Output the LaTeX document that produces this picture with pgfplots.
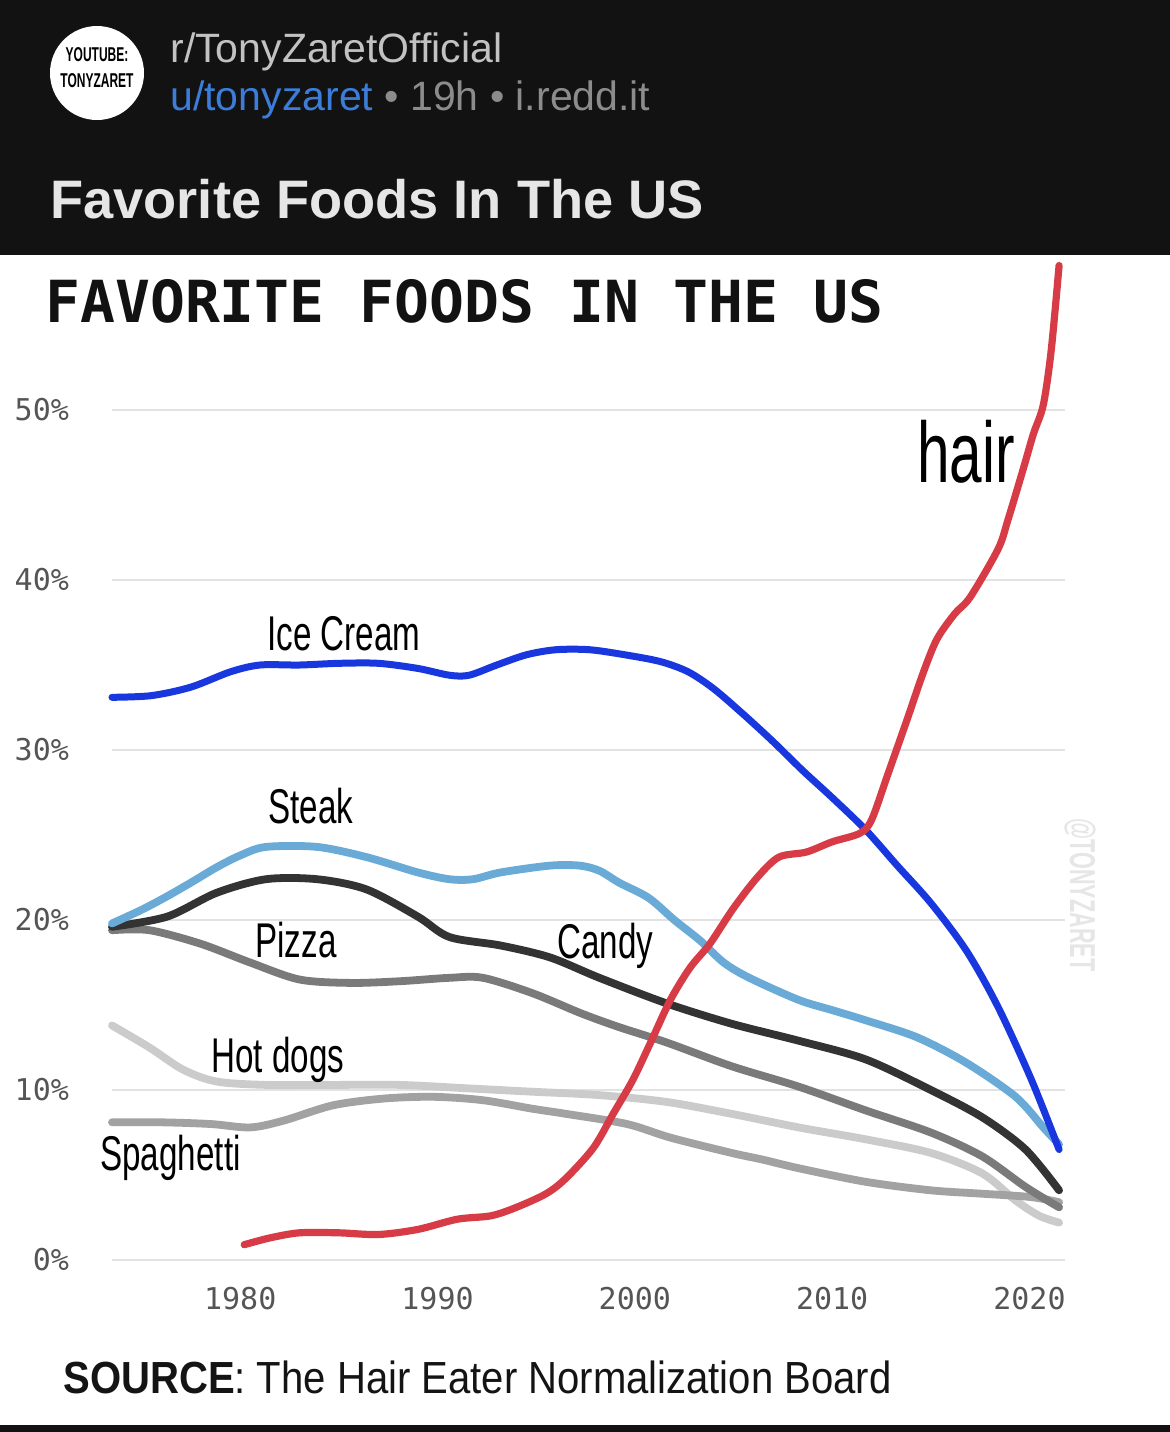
\documentclass[border=0pt]{standalone}
\usepackage{fontspec}
\setmainfont{Liberation Sans}
\newfontfamily\monofont{DejaVu Sans Mono}
\newfontfamily\monobold{DejaVu Sans Mono Bold}
\newfontfamily\lblfont[FakeStretch=0.68]{Liberation Sans}
\newfontfamily\avfont[FakeStretch=0.6]{Liberation Sans Bold}
\newfontfamily\srcfont[FakeStretch=0.89]{Liberation Sans}
\newfontfamily\srcbold[FakeStretch=0.89]{Liberation Sans Bold}
\usepackage{pgfplots}
\pgfplotsset{compat=1.18}
\definecolor{hdrbg}{HTML}{121212}
\definecolor{subgray}{HTML}{C2C2C2}
\definecolor{metagray}{HTML}{8C8C8C}
\definecolor{userblue}{HTML}{3B7DD8}
\definecolor{titlewhite}{HTML}{E6E6E6}
\definecolor{tickgray}{HTML}{555555}
\definecolor{gridgray}{HTML}{E2E2E2}
\definecolor{icecream}{RGB}{25,55,222}
\definecolor{steak}{RGB}{105,170,215}
\definecolor{candy}{HTML}{333333}
\definecolor{pizza}{HTML}{7A7A7A}
\definecolor{spaghetti}{HTML}{A2A2A2}
\definecolor{hotdogs}{HTML}{CBCBCB}
\definecolor{hair}{RGB}{215,60,70}
\definecolor{wmark}{HTML}{E6E6E6}
\begin{document}
\begin{tikzpicture}
\begin{scope}[x=0.5pt,y=-0.5pt]
\fill[hdrbg] (0,0) rectangle (1170,255);
\fill[white] (0,255) rectangle (1170,1425);
\fill[hdrbg] (0,1425) rectangle (1170,1432);
\fill[white] (97,73) circle[radius=47];
\node[anchor=center, inner sep=0pt, text=black] at (97,55) {\avfont\fontsize{10}{12}\selectfont YOUTUBE:};
\node[anchor=center, inner sep=0pt, text=black] at (97,81) {\avfont\fontsize{10}{12}\selectfont TONYZARET};
\node[anchor=base west, inner sep=0pt, text=subgray] at (170,62) {\fontsize{20.5}{24}\selectfont r/TonyZaretOfficial};
\node[anchor=base west, inner sep=0pt] at (170,110) {\fontsize{20.5}{24}\selectfont\textcolor{userblue}{u/tonyzaret}\ \textcolor{metagray}{\textbullet\ 19h \textbullet\ i.redd.it}};
\node[anchor=base west, inner sep=0pt, text=titlewhite] at (50,218) {\fontsize{27.1}{32}\selectfont\bfseries Favorite Foods In The US};
\node[anchor=base west, inner sep=0pt, text=black!93] at (45,322) {\monobold\fontsize{29}{34}\selectfont FAVORITE FOODS IN THE US};
\node[anchor=center, inner sep=0pt, text=wmark, rotate=-90] at (1080,895) {\avfont\fontsize{18}{20}\selectfont @TONYZARET};
\end{scope}
\begin{axis}[
  at={(56pt,-630pt)}, anchor=south west,
  scale only axis, width=476.5pt, height=510pt,
  xmin=1973.5, xmax=2021.8, ymin=0, ymax=60,
  clip=false,
  axis line style={draw=none},
  major tick style={draw=none},
  major tick length=0pt,
  ymajorgrids,
  grid style={draw=gridgray, line width=1pt},
  xtick={1980,1990,2000,2010,2020},
  xticklabels={1980,1990,2000,2010,2020},
  ytick={0,10,20,30,40,50},
  yticklabels={0\%,10\%,20\%,30\%,40\%,50\%},
  xticklabel style={font=\monofont\fontsize{15}{18}\selectfont, text=tickgray, yshift=-10pt},
  yticklabel style={font=\monofont\fontsize{15}{18}\selectfont, text=tickgray, xshift=-18pt},
  every axis plot/.append style={smooth, line width=3.9pt, line cap=round, line join=round, no marks},
]
% Hot dogs
\addplot[hotdogs] coordinates {
(1973.5,13.8) (1975.4,12.5) (1977.1,11.2) (1978.8,10.5) (1981.3,10.3) (1984.7,10.3)
(1988.1,10.3) (1991.5,10.1) (1994.8,9.9) (1998.2,9.7) (2001.6,9.3) (2004.9,8.6)
(2008.3,7.8) (2011.7,7.1) (2015,6.3) (2017.6,5.1) (2019.3,3.5) (2020.5,2.6) (2021.5,2.2)};
% Spaghetti
\addplot[spaghetti] coordinates {
(1973.5,8.1) (1976,8.1) (1978.5,8.0) (1980.5,7.8) (1982.2,8.2) (1984.7,9.1)
(1987.3,9.5) (1989.8,9.6) (1992.3,9.4) (1994.8,8.9) (1996.5,8.6) (1999.6,8.0)
(2001.8,7.2) (2004.9,6.3) (2006.5,5.9) (2008.3,5.4) (2011.7,4.6) (2015,4.1)
(2017.6,3.9) (2020.1,3.7) (2021.5,3.4)};
% Pizza
\addplot[pizza] coordinates {
(1973.5,19.4) (1975.4,19.4) (1978,18.6) (1980.5,17.5) (1983,16.5) (1985.6,16.3)
(1988.1,16.4) (1990.6,16.6) (1992.3,16.6) (1994.8,15.7) (1997.3,14.5) (1999.2,13.7)
(2001.6,12.8) (2004.9,11.4) (2008.3,10.2) (2011.7,8.8) (2015,7.5) (2017.6,6.1)
(2019.8,4.3) (2021.5,3.1)};
% Candy
\addplot[candy] coordinates {
(1973.5,19.6) (1976.3,20.2) (1978.8,21.6) (1981.3,22.4) (1983.9,22.4) (1986.4,21.8)
(1989,20.2) (1990.6,19.0) (1993.2,18.5) (1995.7,17.8) (1998.2,16.6) (2001.6,15.1)
(2004.9,13.9) (2008.3,12.9) (2011.7,11.8) (2015,10.0) (2017.6,8.4) (2019.8,6.5)
(2021.5,4.1)};
% Steak
\addplot[steak] coordinates {
(1973.5,19.8) (1975,20.6) (1976.3,21.4) (1977.5,22.2) (1978.8,23.1) (1980,23.8)
(1981.3,24.3) (1983.9,24.3) (1986.4,23.7) (1989,22.8) (1990.6,22.4) (1991.8,22.4)
(1993.2,22.8) (1995.7,23.2) (1997.2,23.2) (1998.2,22.9) (1999.2,22.2) (2000.7,21.3)
(2002,20.0) (2003.3,18.8) (2004.5,17.5) (2005.8,16.6) (2008.3,15.3) (2010,14.7)
(2011.7,14.1) (2014.3,13.1) (2016.8,11.6) (2019.3,9.6) (2020.7,7.8) (2021.5,6.8)};
% Ice Cream
\addplot[icecream, line width=3.5pt] coordinates {
(1973.5,33.1) (1975.5,33.2) (1977.5,33.7) (1979.5,34.6) (1981,35.0) (1983,35.0)
(1985,35.1) (1987,35.1) (1989,34.8) (1990.6,34.4) (1991.6,34.4) (1993,35.0)
(1994.5,35.6) (1996,35.9) (1997.7,35.9) (1999.5,35.6) (2001.3,35.2) (2002.7,34.6)
(2004,33.6) (2005.5,32.1) (2007,30.5) (2008.5,28.8) (2010,27.2) (2011.7,25.3)
(2013.3,23.2) (2015,21.0) (2016.8,18.2) (2018.4,14.9) (2020.1,10.6) (2021.5,6.5)};
% hair
\addplot[hair, line width=3.6pt] coordinates {
(1980.2,0.9) (1981.5,1.3) (1983,1.6) (1985,1.6) (1987,1.5) (1989,1.8) (1991,2.4)
(1992.7,2.6) (1994,3.1) (1995.5,3.9) (1996.5,4.8) (1997.9,6.6) (1998.9,8.6)
(1999.9,10.6) (2000.8,12.8) (2001.8,15.3) (2002.8,17.2) (2003.8,18.6) (2005,20.7)
(2006.2,22.5) (2007.3,23.7) (2008.7,24.0) (2010,24.6) (2011.4,25.1) (2012,25.9)
(2012.8,28.5) (2013.8,31.8) (2014.6,34.5) (2015.3,36.5) (2016.2,38.0) (2017,39.0)
(2018.4,41.8) (2018.9,43.5) (2019.7,46.6) (2020.2,48.6) (2020.7,50.3) (2021.1,53.5)
(2021.5,58.5)};
\end{axis}
\begin{scope}[x=0.5pt,y=-0.5pt]
\node[anchor=base west, inner sep=0pt] at (267,650) {\lblfont\fontsize{24.4}{28}\selectfont Ice Cream};
\node[anchor=base west, inner sep=0pt] at (268,823) {\lblfont\fontsize{24.4}{28}\selectfont Steak};
\node[anchor=base west, inner sep=0pt] at (255,957) {\lblfont\fontsize{24.4}{28}\selectfont Pizza};
\node[anchor=base west, inner sep=0pt] at (557,958) {\lblfont\fontsize{24.4}{28}\selectfont Candy};
\node[anchor=base west, inner sep=0pt] at (211,1072) {\lblfont\fontsize{24.4}{28}\selectfont Hot dogs};
\node[anchor=base west, inner sep=0pt] at (100,1170) {\lblfont\fontsize{24.4}{28}\selectfont Spaghetti};
\node[anchor=base west, inner sep=0pt] at (917,482) {\lblfont\fontsize{43}{48}\selectfont hair};
\node[anchor=base west, inner sep=0pt, text=black!92] at (63,1393) {\fontsize{22.5}{26}\selectfont\srcbold SOURCE\srcfont: The Hair Eater Normalization Board};
\end{scope}
\end{tikzpicture}
\end{document}
